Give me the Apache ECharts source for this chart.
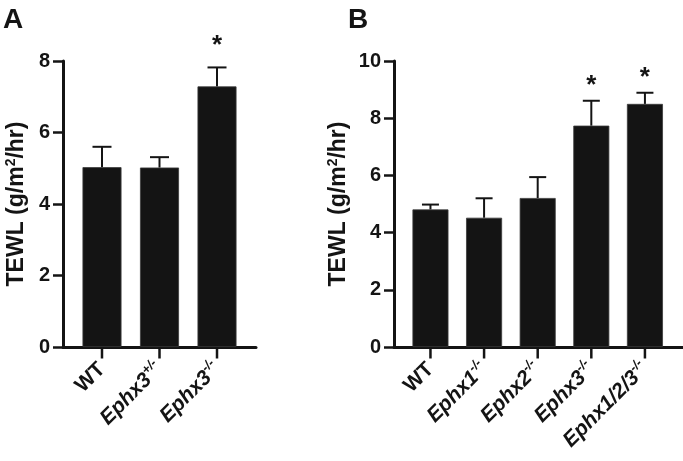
<!DOCTYPE html>
<html>
<head>
<meta charset="utf-8">
<script src="https://cdn.jsdelivr.net/npm/echarts@6/dist/echarts.min.js"></script>
<style>
html,body{margin:0;padding:0;background:#fff;}
#chart{width:683px;height:461px;}
</style>
</head>
<body>
<div id="chart"></div>
<script>
// Panel A data
const categoriesA = ['WT', 'Ephx3+/-', 'Ephx3-/-'];
const meanA = [5.03, 5.02, 7.29];
const upperA = [5.60, 5.31, 7.82];
const sigA = [0, 0, 1];
const ticksA = [0, 2, 4, 6, 8];

// Panel B data
const categoriesB = ['WT', 'Ephx1-/-', 'Ephx2-/-', 'Ephx3-/-', 'Ephx1/2/3-/-'];
const meanB = [4.81, 4.52, 5.21, 7.74, 8.50];
const upperB = [4.98, 5.20, 5.94, 8.61, 8.89];
const sigB = [0, 0, 0, 1, 1];
const ticksB = [0, 2, 4, 6, 8, 10];

const FONT = '"Liberation Sans", Arial, Helvetica, sans-serif';
const INK = '#141414';

function fmtCat(cats) {
  return function (v) {
    const s = cats[Math.round(v)] || '';
    const m = s.match(/^(Ephx[0-9\/]+)(.*)$/);
    if (!m) return '{n|' + s + '}';
    return '{it|' + m[1] + '}{sup|' + m[2] + '}';
  };
}

const labelRich = {
  n: {fontFamily: FONT, fontWeight: 'bold', fontSize: 21, color: INK},
  it: {fontFamily: FONT, fontWeight: 'bold', fontStyle: 'italic', fontSize: 21, color: INK},
  sup: {fontFamily: FONT, fontWeight: 'bold', fontStyle: 'italic', fontSize: 13, color: INK, padding: [0, 0, 13, 0]}
};

function xAxisCfg(idx, cats, lo, hi) {
  const vals = cats.map((c, i) => i);
  return {
    type: 'value', gridIndex: idx, min: lo, max: hi,
    splitLine: {show: false},
    axisLine: {show: true, onZero: false, lineStyle: {color: INK, width: 3}},
    axisTick: {show: false},
    axisLabel: {show: true, rotate: 45, margin: 19, customValues: vals, formatter: fmtCat(cats), rich: labelRich}
  };
}

function yAxisCfg(idx, ticks, gap) {
  return {
    type: 'value', gridIndex: idx, min: ticks[0], max: ticks[ticks.length - 1], interval: ticks[1] - ticks[0],
    splitLine: {show: false},
    axisLine: {show: true, onZero: false, lineStyle: {color: INK, width: 3}},
    axisTick: {show: true, length: 10, lineStyle: {color: INK, width: 2.5}},
    axisLabel: {fontFamily: FONT, fontWeight: 'bold', fontSize: 20, color: INK, margin: 13},
    name: '{t|TEWL (g/m}{s|2}{t|/hr)}',
    nameLocation: 'middle', nameRotate: 90, nameGap: gap,
    nameTextStyle: {
      rich: {
        t: {fontFamily: FONT, fontWeight: 'bold', fontSize: 23, color: INK},
        s: {fontFamily: FONT, fontWeight: 'bold', fontSize: 14, color: INK, padding: [0, 0, 12, 0]}
      }
    }
  };
}

function errData(mean, upper, sig) {
  return mean.map((m, i) => [i, m, upper[i], sig[i]]);
}

function errRender(starGap, capHalf) {
  return function (params, api) {
    const x = api.value(0), m = api.value(1), u = api.value(2), s = api.value(3);
    const p0 = api.coord([x, m]);
    const p1 = api.coord([x, u]);
    const pb = api.coord([x, 0]);
    const children = [
      {type: 'line', shape: {x1: p0[0], y1: p0[1], x2: p1[0], y2: p1[1]}, style: {stroke: INK, lineWidth: 2}},
      {type: 'line', shape: {x1: p1[0] - capHalf, y1: p1[1], x2: p1[0] + capHalf, y2: p1[1]}, style: {stroke: INK, lineWidth: 2}},
      // category tick below the x axis
      {type: 'line', shape: {x1: pb[0], y1: pb[1], x2: pb[0], y2: pb[1] + 11.5}, style: {stroke: INK, lineWidth: 2.5}}
    ];
    if (s) {
      children.push({
        type: 'text',
        style: {text: '*', x: p1[0], y: p1[1] - starGap, align: 'center', verticalAlign: 'middle',
          fontFamily: FONT, fontWeight: 'bold', fontSize: 26, fill: INK}
      });
    }
    return {type: 'group', children: children};
  };
}

const chart = echarts.init(document.getElementById('chart'));
chart.setOption({
  backgroundColor: '#ffffff',
  animation: false,
  graphic: [
    {type: 'text', left: 3, top: 6, style: {text: 'A', fontFamily: FONT, fontWeight: 'bold', fontSize: 28, fill: INK}},
    {type: 'text', left: 348, top: 6, style: {text: 'B', fontFamily: FONT, fontWeight: 'bold', fontSize: 28, fill: INK}}
  ],
  grid: [
    {left: 63, top: 61, width: 193, height: 286, containLabel: false},
    {left: 394, top: 61, width: 289, height: 286, containLabel: false}
  ],
  xAxis: [
    xAxisCfg(0, categoriesA, -0.678, 2.678),
    xAxisCfg(1, categoriesB, -0.68, 4.71)
  ],
  yAxis: [
    yAxisCfg(0, ticksA, 33),
    yAxisCfg(1, ticksB, 42)
  ],
  series: [
    {type: 'bar', xAxisIndex: 0, yAxisIndex: 0, barWidth: 39, data: meanA.map((v, i) => [i, v]),
      itemStyle: {color: INK, borderColor: '#3a3a3a', borderWidth: 0.8}},
    {type: 'custom', xAxisIndex: 0, yAxisIndex: 0, renderItem: errRender(22, 9.5), data: errData(meanA, upperA, sigA), z: 3, clip: false},
    {type: 'bar', xAxisIndex: 1, yAxisIndex: 1, barWidth: 36, data: meanB.map((v, i) => [i, v]),
      itemStyle: {color: INK, borderColor: '#3a3a3a', borderWidth: 0.8}},
    {type: 'custom', xAxisIndex: 1, yAxisIndex: 1, renderItem: errRender(15, 8.5), data: errData(meanB, upperB, sigB), z: 3, clip: false}
  ]
});
</script>
</body>
</html>
